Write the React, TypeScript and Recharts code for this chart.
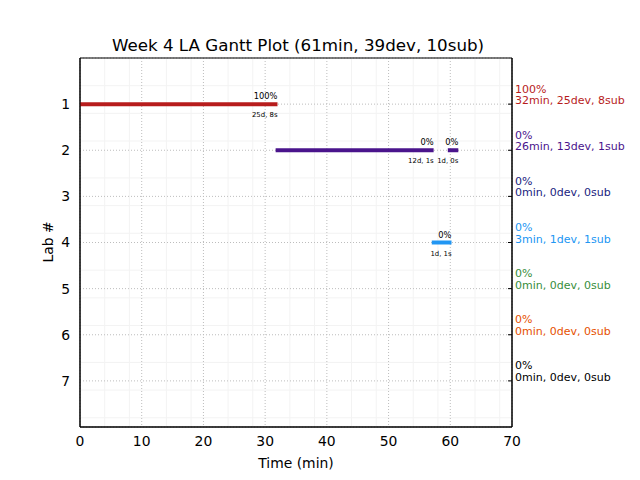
import React from "react";
import {
  LineChart,
  Line,
  XAxis,
  YAxis,
  CartesianGrid,
  ReferenceArea,
} from "recharts";

const TITLE = "Week 4 LA Gantt Plot (61min, 39dev, 10sub)";

const labs = [1, 2, 3, 4, 5, 6, 7];
const labColors = ["#b71c1c", "#4a148c", "#1a237e", "#2196f3", "#388e3c", "#e65100", "#000000"];
const labPct = ["100%", "0%", "0%", "0%", "0%", "0%", "0%"];
const labSummary = [
  "32min, 25dev, 8sub",
  "26min, 13dev, 1sub",
  "0min, 0dev, 0sub",
  "3min, 1dev, 1sub",
  "0min, 0dev, 0sub",
  "0min, 0dev, 0sub",
  "0min, 0dev, 0sub",
];

// gantt segments
const segLab = [1, 2, 2, 4];
const segStart = [0, 31.7, 59.6, 57];
const segEnd = [32, 57.3, 61.3, 60.2];
const segPct = ["100%", "0%", "0%", "0%"];
const segNote = ["25d, 8s", "12d, 1s", "1d, 0s", "1d, 1s"];

const xTicks = [0, 10, 20, 30, 40, 50, 60, 70];
const xMinor = [2, 4, 6, 8, 12, 14, 16, 18, 22, 24, 26, 28, 32, 34, 36, 38, 42, 44, 46, 48, 52, 54, 56, 58, 62, 64, 66, 68];
const yMinor = [
  0.2, 0.4, 0.6, 0.8, 1.2, 1.4, 1.6, 1.8, 2.2, 2.4, 2.6, 2.8, 3.2, 3.4, 3.6, 3.8,
  4.2, 4.4, 4.6, 4.8, 5.2, 5.4, 5.6, 5.8, 6.2, 6.4, 6.6, 6.8, 7.2, 7.4, 7.6, 7.8,
];

const FONT = "DejaVu Sans";

function RightTick(props: any) {
  const { x, y, payload } = props;
  const i = labs.indexOf(payload.value);
  if (i < 0) return <g />;
  return (
    <g>
      <line x1={x - 3} x2={x - 7} y1={y} y2={y} stroke="#000" />
      <text x={x} y={y - 11.5} fill={labColors[i]} fontSize={11} fontFamily={FONT}>
        {labPct[i]}
      </text>
      <text x={x} y={y} fill={labColors[i]} fontSize={11} fontFamily={FONT}>
        {labSummary[i]}
      </text>
    </g>
  );
}

export default function App() {
  return (
    <div style={{ position: "relative", width: 640, height: 480, marginLeft: -8, marginTop: -8, fontFamily: FONT }}>
      <div style={{ position: "absolute", left: 82, width: 432, top: 35, textAlign: "center", fontSize: 16.7, color: "#000" }}>
        {TITLE}
      </div>
      <div style={{ position: "absolute", left: 80, width: 432, top: 455, textAlign: "center", fontSize: 13.9 }}>
        Time (min)
      </div>
      <div
        style={{
          position: "absolute",
          left: 48,
          top: 242,
          transform: "translate(-50%, -50%) rotate(-90deg)",
          fontSize: 13.9,
          whiteSpace: "nowrap",
        }}
      >
        Lab #
      </div>
      <LineChart width={640} height={480} margin={{ top: 58, right: 8, bottom: 23, left: 30 }}>
        <XAxis xAxisId="minor" type="number" dataKey="x" domain={[0, 70]} ticks={xMinor} hide allowDataOverflow />
        <YAxis yAxisId="minor" type="number" domain={[0, 8]} ticks={yMinor} reversed hide allowDataOverflow />
        <CartesianGrid xAxisId="minor" yAxisId="minor" stroke="#f3f3f3" strokeWidth={1} />
        <CartesianGrid yAxisId="left" stroke="#bdbdbd" strokeDasharray="1 2" />
        <XAxis
          type="number"
          dataKey="x"
          domain={[0, 70]}
          ticks={xTicks}
          allowDataOverflow
          height={30}
          axisLine={{ stroke: "#000" }}
          tickLine={false}
          tickSize={0}
          tickMargin={9}
          tick={{ fill: "#000", fontSize: 13.9, fontFamily: FONT }}
        />
        <YAxis
          yAxisId="left"
          type="number"
          domain={[0, 8]}
          ticks={labs}
          reversed
          allowDataOverflow
          width={50}
          axisLine={{ stroke: "#000" }}
          tickLine={false}
          tickSize={0}
          tickMargin={10}
          tick={{ fill: "#000", fontSize: 13.9, fontFamily: FONT }}
        />
        <YAxis
          yAxisId="right"
          orientation="right"
          type="number"
          domain={[0, 8]}
          ticks={labs}
          reversed
          allowDataOverflow
          width={120}
          axisLine={{ stroke: "#000" }}
          tickLine={false}
          tickSize={0}
          tickMargin={3}
          tick={<RightTick />}
        />
        <ReferenceArea yAxisId="left" x1={0} x2={70} y1={0} y2={8} fill="none" stroke="#000" strokeWidth={1} ifOverflow="visible" />
        {segLab.map((lab, i) => (
          <Line
            key={i}
            yAxisId="left"
            data={[
              { x: segStart[i], y: lab },
              { x: segEnd[i], y: lab },
            ]}
            dataKey="y"
            stroke={labColors[lab - 1]}
            strokeWidth={4}
            isAnimationActive={false}
            activeDot={false}
            dot={(p: any) =>
              p.index === 1 ? (
                <g key={`d${i}-${p.index}`}>
                  <text x={p.cx} y={p.cy - 5} textAnchor="end" fontSize={8.3} fontFamily={FONT} fill="#000">
                    {segPct[i]}
                  </text>
                  <text x={p.cx} y={p.cy + 13} textAnchor="end" fontSize={6.9} fontFamily={FONT} fill="#000">
                    {segNote[i]}
                  </text>
                </g>
              ) : (
                <g key={`d${i}-${p.index}`} />
              )
            }
          />
        ))}
      </LineChart>
    </div>
  );
}
